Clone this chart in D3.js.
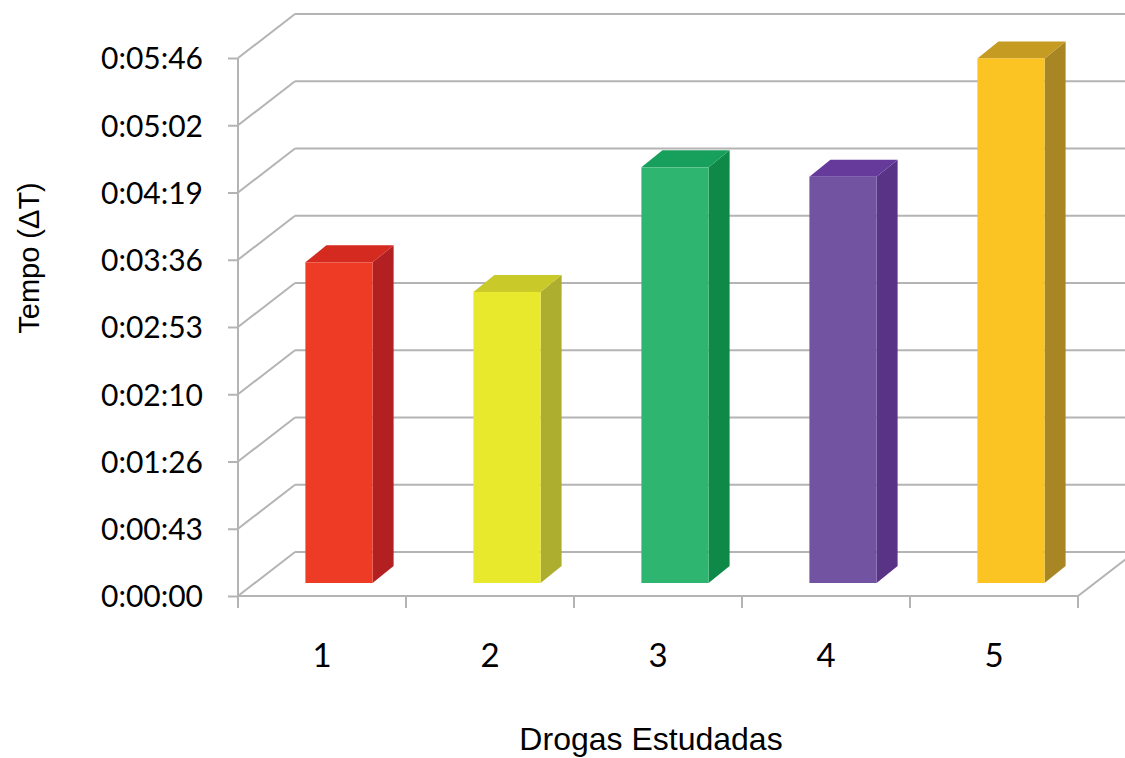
<!DOCTYPE html>
<html>
<head>
<meta charset="utf-8">
<script src="https://cdn.jsdelivr.net/npm/d3@7"></script>
<style>
  body { margin: 0; background: #fff; }
  svg { display: block; }
</style>
</head>
<body>
<svg id="chart" width="1125" height="758"></svg>
<script>
// Tempo (ΔT) per droga estudada, in seconds
const drugs = ["1", "2", "3", "4", "5"];
const tempos = [206, 187, 267, 261, 337];
const tickSeconds = [0, 43.2, 86.4, 129.6, 172.8, 216, 259.2, 302.4, 345.6];
const tickLabels = ["0:00:00", "0:00:43", "0:01:26", "0:02:10", "0:02:53", "0:03:36", "0:04:19", "0:05:02", "0:05:46"];
const frontColors = ["#ee3b25", "#e8e82c", "#2eb56f", "#7153a1", "#fbc422"];
const sideColors = ["#b32022", "#adad30", "#0e8948", "#583386", "#a98624"];
const topColors = ["#d52a20", "#c9c92a", "#17a05b", "#663a9b", "#c59b22"];

const svg = d3.select("#chart");
const width = 1125, height = 758;
const margin = { top: 58, right: 47, bottom: 162, left: 238 };

// 3D depth of the walls and of the bars
const depth = { dx: 57, dy: -44 };
const barOffset = { dx: 17, dy: -13 };
const barDepth = { dx: 21, dy: -17 };

const y = d3.scaleLinear()
  .domain([0, 345.6])
  .range([height - margin.bottom, margin.top]);

const x = d3.scaleBand()
  .domain(drugs)
  .range([margin.left, width - margin.right]);

const gridColor = "#b4b4b4";
const grid = svg.append("g");

// back wall gridlines
grid.selectAll("line.back")
  .data(tickSeconds)
  .join("line")
  .attr("class", "back")
  .attr("x1", margin.left + depth.dx)
  .attr("x2", width + 20)
  .attr("y1", d => y(d) + depth.dy)
  .attr("y2", d => y(d) + depth.dy)
  .attr("stroke", gridColor)
  .attr("stroke-width", 2);

// side wall diagonals
grid.selectAll("line.side")
  .data(tickSeconds)
  .join("line")
  .attr("class", "side")
  .attr("x1", margin.left)
  .attr("x2", margin.left + depth.dx)
  .attr("y1", d => y(d))
  .attr("y2", d => y(d) + depth.dy)
  .attr("stroke", gridColor)
  .attr("stroke-width", 2);

// floor front edge and right diagonal
const x0 = margin.left, x1 = width - margin.right, yb = y(0);
grid.append("path")
  .attr("d", `M${x0},${yb}H${x1}L${x1 + depth.dx},${yb + depth.dy}`)
  .attr("fill", "none")
  .attr("stroke", gridColor)
  .attr("stroke-width", 2);

// bars
const bars = svg.append("g")
  .selectAll("g")
  .data(drugs.map((d, i) => ({ drug: d, value: tempos[i], i })))
  .join("g");

const bw = x.bandwidth() * 0.4;
const bx = d => x(d.drug) + x.bandwidth() * 0.3 + barOffset.dx;
const by = v => y(v) + barOffset.dy;

bars.append("path")
  .attr("fill", d => sideColors[d.i])
  .attr("d", d => {
    const l = bx(d) + bw, t = by(d.value), b = by(0);
    return `M${l},${b}L${l + barDepth.dx},${b + barDepth.dy}L${l + barDepth.dx},${t + barDepth.dy}L${l},${t}Z`;
  });

bars.append("path")
  .attr("fill", d => topColors[d.i])
  .attr("d", d => {
    const l = bx(d), t = by(d.value);
    return `M${l},${t}L${l + barDepth.dx},${t + barDepth.dy}L${l + bw + barDepth.dx},${t + barDepth.dy}L${l + bw},${t}Z`;
  });

bars.append("rect")
  .attr("x", d => bx(d))
  .attr("y", d => by(d.value))
  .attr("width", bw)
  .attr("height", d => by(0) - by(d.value))
  .attr("fill", d => frontColors[d.i]);

// Y axis
const yAxis = d3.axisLeft(y)
  .tickValues(tickSeconds)
  .tickFormat((d, i) => tickLabels[i])
  .tickSize(10)
  .tickPadding(25);

const gy = svg.append("g")
  .attr("transform", `translate(${margin.left},0)`)
  .call(yAxis);

gy.select(".domain")
  .attr("d", `M0,${y(345.6)}V${y(0) + 12}`);

// X axis, ticks between categories
const xAxis = d3.axisBottom(x)
  .tickSize(12)
  .tickPadding(36)
  .tickSizeOuter(0);

const gx = svg.append("g")
  .attr("transform", `translate(0,${y(0)})`)
  .call(xAxis);

gx.select(".domain").remove();
gx.selectAll(".tick line").remove();
gx.selectAll("line.sep")
  .data(drugs.concat(["end"]))
  .join("line")
  .attr("class", "sep")
  .attr("x1", (d, i) => margin.left + i * x.step())
  .attr("x2", (d, i) => margin.left + i * x.step())
  .attr("y1", 0)
  .attr("y2", 12);

svg.selectAll(".domain, .tick line, line.sep")
  .attr("stroke", gridColor)
  .attr("stroke-width", 2);

svg.selectAll(".tick text")
  .attr("fill", "#000")
  .style("font-family", "Lato, sans-serif")
  .style("font-size", "30px");

gx.selectAll(".tick text").style("font-size", "33px");
gy.selectAll(".tick text").attr("dy", "0.36em");

// axis titles
svg.append("text")
  .attr("transform", `translate(39,258) rotate(-90)`)
  .attr("text-anchor", "middle")
  .style("font-family", "'Liberation Sans', Arial, sans-serif")
  .style("font-size", "29px")
  .attr("fill", "#000")
  .text("Tempo (ΔT)");

svg.append("text")
  .attr("x", 651)
  .attr("y", 750)
  .attr("text-anchor", "middle")
  .style("font-family", "'Liberation Sans', Arial, sans-serif")
  .style("font-size", "32px")
  .attr("fill", "#000")
  .text("Drogas Estudadas");
</script>
</body>
</html>
